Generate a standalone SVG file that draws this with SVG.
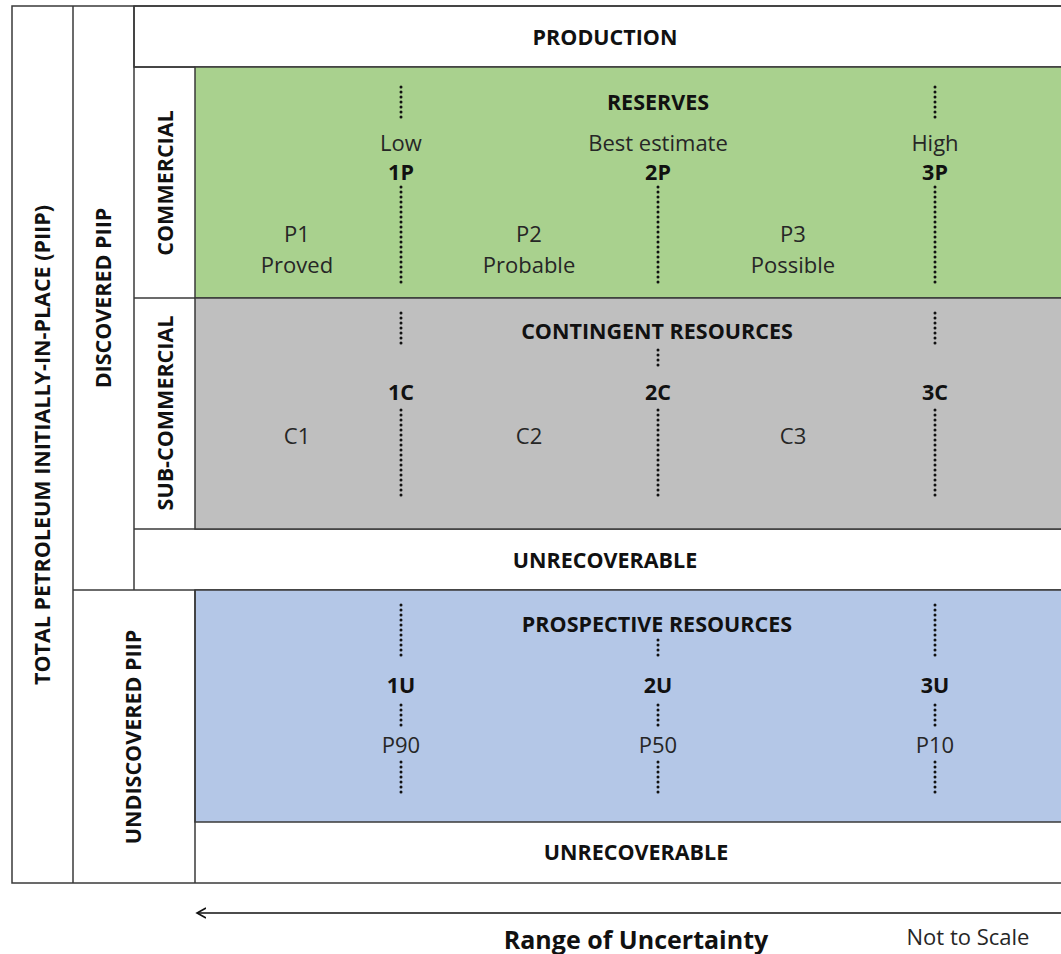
<svg xmlns="http://www.w3.org/2000/svg" width="1061" height="954" viewBox="0 0 1061 954">
<defs>
<style>
.b{fill:none;stroke:#3a3a3a;stroke-width:1.5}
.t{font-family:"Open Sans","Liberation Sans",sans-serif;font-size:22px;fill:#262626;text-anchor:middle}
.h{font-family:"Open Sans","Liberation Sans",sans-serif;font-size:21.5px;font-weight:bold;fill:#111;text-anchor:middle}
.d{stroke:#111;stroke-width:3;stroke-dasharray:0 5;stroke-linecap:round;fill:none}
</style>
<marker id="ah" markerWidth="12" markerHeight="12" refX="9" refY="6" orient="auto" markerUnits="userSpaceOnUse">
<path d="M0,1 L9,6 L0,11" fill="none" stroke="#111" stroke-width="1.6"/>
</marker>
</defs>
<rect width="1061" height="954" fill="#fff"/>
<g id="frame">
<rect class="b" x="12" y="6" width="1060" height="877"/>
<line class="b" x1="73" y1="6" x2="73" y2="883"/>
<line class="b" x1="134" y1="6" x2="134" y2="590"/>
<line class="b" x1="73" y1="590" x2="1072" y2="590"/>
<line class="b" x1="134" y1="529" x2="1072" y2="529"/>
</g>
<g id="production">
<rect class="b" x="134" y="6" width="938" height="61"/>
<text class="h" x="605" y="45">PRODUCTION</text>
</g>
<g id="reserves">
<rect x="195" y="67" width="877" height="231" fill="#a9d18e" stroke="#3a3a3a" stroke-width="1.5"/>
<line class="b" x1="134" y1="67" x2="195" y2="67"/>
<text class="h" x="658" y="110">RESERVES</text>
<text class="t" x="401" y="151">Low</text>
<text class="h" x="401" y="180">1P</text>
<text class="t" x="658" y="151">Best estimate</text>
<text class="h" x="658" y="180">2P</text>
<text class="t" x="935" y="151">High</text>
<text class="h" x="935" y="180">3P</text>
<text class="t" x="297" y="242">P1</text>
<text class="t" x="297" y="273">Proved</text>
<text class="t" x="529" y="242">P2</text>
<text class="t" x="529" y="273">Probable</text>
<text class="t" x="793" y="242">P3</text>
<text class="t" x="793" y="273">Possible</text>
</g>
<g id="contingent">
<rect x="195" y="298" width="877" height="231" fill="#bfbfbf" stroke="#3a3a3a" stroke-width="1.5"/>
<line class="b" x1="134" y1="298" x2="195" y2="298"/>
<text class="h" x="657" y="339">CONTINGENT RESOURCES</text>
<text class="h" x="401" y="400">1C</text>
<text class="h" x="658" y="400">2C</text>
<text class="h" x="935" y="400">3C</text>
<text class="t" x="297" y="444">C1</text>
<text class="t" x="529" y="444">C2</text>
<text class="t" x="793" y="444">C3</text>
</g>
<g id="unrecoverable1">
<text class="h" x="605" y="568">UNRECOVERABLE</text>
</g>
<g id="prospective">
<rect x="195" y="590" width="877" height="232" fill="#b4c7e7" stroke="#3a3a3a" stroke-width="1.5"/>
<line class="b" x1="195" y1="590" x2="195" y2="883"/>
<text class="h" x="657" y="632">PROSPECTIVE RESOURCES</text>
<text class="h" x="401" y="693">1U</text>
<text class="h" x="658" y="693">2U</text>
<text class="h" x="935" y="693">3U</text>
<text class="t" x="401" y="753">P90</text>
<text class="t" x="658" y="753">P50</text>
<text class="t" x="935" y="753">P10</text>
</g>
<g id="unrecoverable2">
<text class="h" x="636" y="860">UNRECOVERABLE</text>
</g>
<g id="side-labels">
<text class="h" transform="translate(50,445) rotate(-90)">TOTAL PETROLEUM INITIALLY-IN-PLACE (PIIP)</text>
<text class="h" transform="translate(111,298) rotate(-90)">DISCOVERED PIIP</text>
<text class="h" transform="translate(173,183) rotate(-90)">COMMERCIAL</text>
<text class="h" transform="translate(173,413) rotate(-90)">SUB-COMMERCIAL</text>
<text class="h" transform="translate(141,737) rotate(-90)">UNDISCOVERED PIIP</text>
</g>
<g id="connectors">
<path class="d" d="M401,87V121M401,187V285M658,187V285M935,87V121M935,187V285"/>
<path class="d" d="M401,313V345M401,410V497M658,350V366M658,410V497M935,313V345M935,410V497"/>
<path class="d" d="M401,605V660M401,705V726M401,762V793M658,640V660M658,705V726M658,762V793M935,605V660M935,705V726M935,762V793"/>
<line x1="1061" y1="913" x2="197" y2="913" stroke="#111" stroke-width="1.5" marker-end="url(#ah)"/>
</g>
<g id="footer">
<text class="h" x="636" y="949" style="font-size:25px">Range of Uncertainty</text>
<text class="t" x="968" y="945">Not to Scale</text>
</g>
</svg>
